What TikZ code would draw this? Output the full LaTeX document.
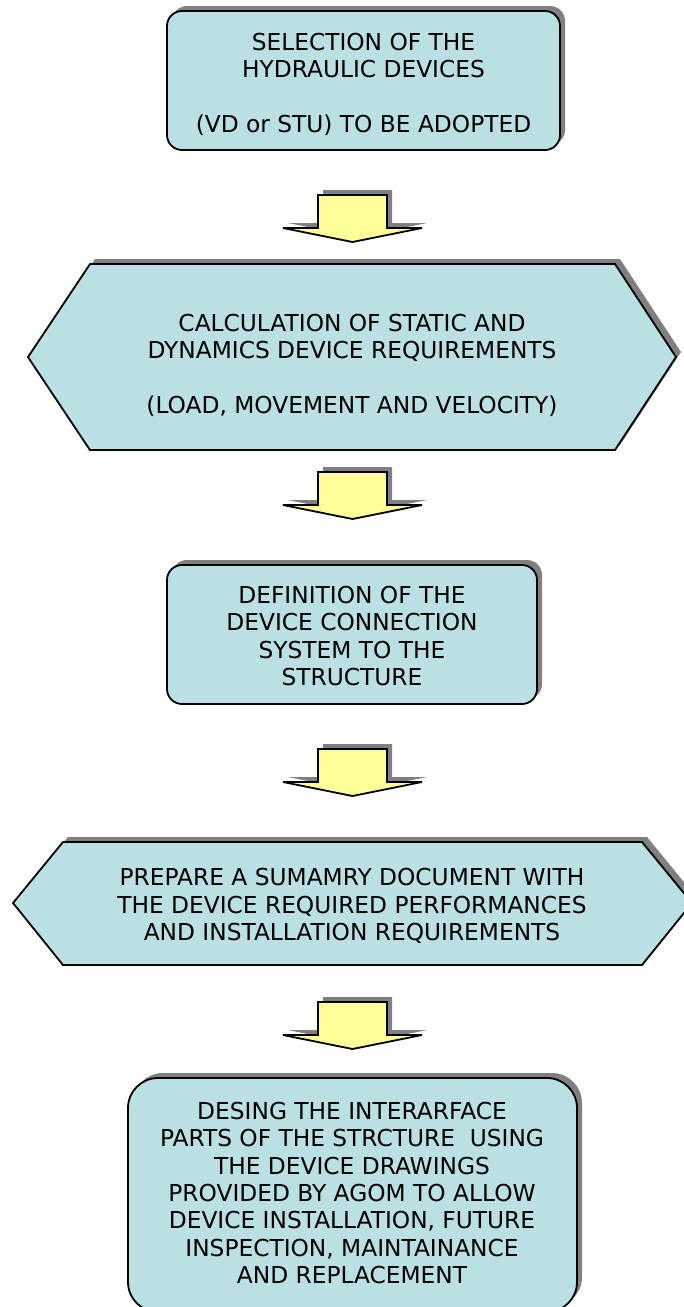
\documentclass[tikz,border=0pt]{standalone}
\usepackage{fontspec}
\setmainfont{DejaVu Sans}
\usepackage{tikz}
\usetikzlibrary{shadows}

\definecolor{boxblue}{RGB}{186,224,227}
\definecolor{arrowyellow}{RGB}{255,255,153}
\definecolor{shadowgrey}{RGB}{128,128,128}

\tikzset{
  stepshade/.style={drop shadow={shadow xshift=5pt,shadow yshift=5pt,opacity=1,fill=shadowgrey}},
  stepbox/.style={draw=black,line width=1.8pt,fill=boxblue,rounded corners=15pt,stepshade},
  stephex/.style={draw=black,line width=1.8pt,fill=boxblue,stepshade},
  steptext/.style={align=center,inner sep=0pt,font=\fontsize{23.3}{27.3}\selectfont},
  flowarrow/.style={draw=black,line width=1.8pt,fill=arrowyellow,stepshade,line join=miter}
}

\begin{document}
\begin{tikzpicture}[x=1pt,y=-1pt]
   \useasboundingbox (0,0) rectangle (684,1307);

   % boxes
   \node[stepbox,minimum width=393pt,minimum height=139pt] (selection) at (363.5,80.5) {};
   \node[steptext] (selectiontext) at (363.5,84) {SELECTION OF THE\\HYDRAULIC DEVICES\\[27.3pt](VD or STU) TO BE ADOPTED};

   \draw[stephex] (28,357) -- (90,264) -- (615,264) -- (676,357) -- (615,450) -- (90,450) -- cycle;
   \node[steptext] (calculation) at (352,365) {CALCULATION OF STATIC AND\\DYNAMICS DEVICE REQUIREMENTS\\[27.3pt](LOAD, MOVEMENT AND VELOCITY)};

   \node[stepbox,minimum width=370pt,minimum height=139pt] (definition) at (352,634.5) {};
   \node[steptext] (definitiontext) at (352,636) {DEFINITION OF THE\\DEVICE CONNECTION\\SYSTEM TO THE\\STRUCTURE};

   \draw[stephex] (13,903) -- (63,842) -- (642,842) -- (692,903) -- (642,965) -- (63,965) -- cycle;
   \node[steptext] (summary) at (352,906) {PREPARE A SUMAMRY DOCUMENT WITH\\THE DEVICE REQUIRED PERFORMANCES\\AND INSTALLATION REQUIREMENTS};

   \node[stepbox,rounded corners=30pt,minimum width=449pt,minimum height=234pt] (interface) at (352.5,1195) {};
   \node[steptext] (interfacetext) at (352,1193) {DESING THE INTERARFACE\\PARTS OF THE STRCTURE~~USING\\THE DEVICE DRAWINGS\\PROVIDED BY AGOM TO ALLOW\\DEVICE INSTALLATION, FUTURE\\INSPECTION, MAINTAINANCE\\AND REPLACEMENT};

   % block arrows between the steps
   \foreach \ytop in {195,472,749,1002}
      \draw[flowarrow] (318,\ytop) -- (387,\ytop) -- (387,\ytop+33) -- (422,\ytop+33)
         -- (352.5,\ytop+47) -- (283,\ytop+33) -- (318,\ytop+33) -- cycle;

\end{tikzpicture}
\end{document}
